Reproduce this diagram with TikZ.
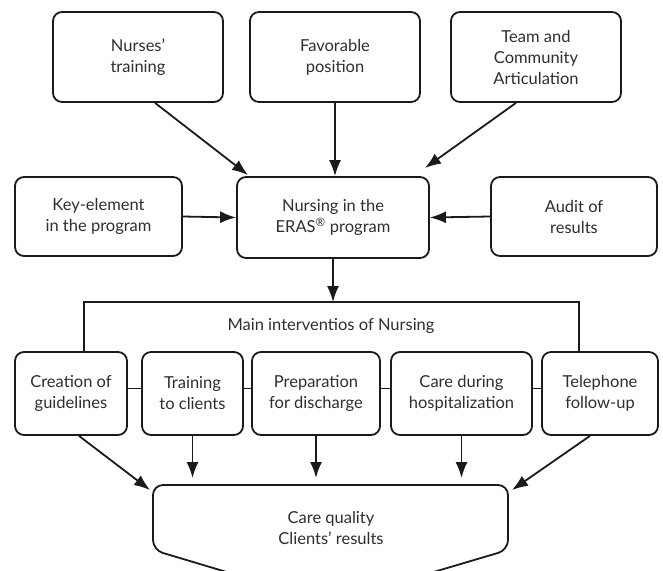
\documentclass[tikz,border=0pt]{standalone}
\usepackage{fontspec}
\setmainfont{Lato}
\usetikzlibrary{arrows.meta,positioning,calc}
\definecolor{ink}{HTML}{1A1A1A}
\definecolor{txt}{HTML}{2E2E2E}
\begin{document}
\begin{tikzpicture}[x=1pt,y=-1pt,
  box/.style={draw=ink,line width=1.8pt,rounded corners=9pt,align=center,
    text=txt,font=\fontsize{16.5}{21}\selectfont,inner sep=2pt},
  lbl/.style={text=txt,font=\fontsize{16.5}{21}\selectfont,align=center},
  arr/.style={draw=ink,line width=1.8pt,-{Latex[length=16pt,width=12pt]}},
  ln/.style={draw=ink,line width=1.8pt}]
\useasboundingbox (0,0) rectangle (663,570);
% top row
\node[box,minimum width=170pt,minimum height=90pt] (nurses) at (138,57) {Nurses'\\training};
\node[box,minimum width=170pt,minimum height=90pt] (favor) at (335,57) {Favorable\\position};
\node[box,minimum width=170pt,minimum height=90pt] (team) at (536,57) {Team and\\Community\\Articulation};
% middle row
\node[box,minimum width=167pt,minimum height=79pt] (key) at (98.5,216.5) {Key-element\\in the program};
\node[box,minimum width=192pt,minimum height=81pt] (eras) at (333,217.5) {Nursing in the\\ERAS\textsuperscript{\textregistered} program};
\node[box,minimum width=166pt,minimum height=79pt] (audit) at (574,216.5) {Audit of\\results};
% arrows into ERAS
\coordinate (nt) at (248,175);
\coordinate (tt) at (425,168);
\draw[arr] ([xshift=17pt]nurses.south) -- (nt);
\draw[arr] (favor.south) -- (favor.south |- eras.north);
\draw[arr] ([xshift=-20pt]team.south) -- (tt);
\draw[arr] (key.east) -- (eras.west);
\draw[arr] (audit.west) -- (eras.east);
% bottom row
\node[box,minimum width=112pt,minimum height=83pt] (creation) at (71,393.5) {Creation of\\guidelines};
\node[box,minimum width=101pt,minimum height=83pt] (training) at (192.5,393.5) {Training\\to clients};
\node[box,minimum width=128pt,minimum height=83pt] (prep) at (316,393.5) {Preparation\\for discharge};
\node[box,minimum width=141pt,minimum height=83pt] (care) at (461.5,393.5) {Care during\\hospitalization};
\node[box,minimum width=116pt,minimum height=83pt] (tele) at (600,393.5) {Telephone\\follow-up};
% links between bottom boxes
\draw[ln] ([yshift=5pt]creation.east) -- ([yshift=5pt]training.west);
\draw[ln] ([yshift=5pt]training.east) -- ([yshift=5pt]prep.west);
\draw[ln] ([yshift=5pt]prep.east) -- ([yshift=5pt]care.west);
\draw[ln] ([yshift=5pt]care.east) -- ([yshift=5pt]tele.west);
% bracket
\coordinate (bl) at (84,302);
\coordinate (br) at (579,302);
\draw[ln] (bl |- creation.north) -- (bl) -- (br) -- (br |- tele.north);
\draw[arr] (eras.south) -- (eras.south |- bl);
\node[lbl] (main) at (331,326) {Main interventios of Nursing};
% quality shape
\draw[ln,rounded corners=10pt] (330,485) -- (508,485) -- (508,550) -- (420,576) -- (240,576) -- (153,550) -- (153,485) -- cycle;
\node[lbl] (quality) at (331,528) {Care quality\\Clients' results};
\coordinate (qnw) at (150,490);
\coordinate (qne) at (512,490);
\draw[arr] ([xshift=8pt]creation.south) -- (qnw);
\draw[arr] (training.south) -- (training.south |- 0,478);
\draw[arr] (prep.south) -- (prep.south |- 0,478);
\draw[arr] (care.south) -- (care.south |- 0,478);
\draw[arr] ([xshift=-10pt]tele.south) -- (qne);
\end{tikzpicture}
\end{document}
